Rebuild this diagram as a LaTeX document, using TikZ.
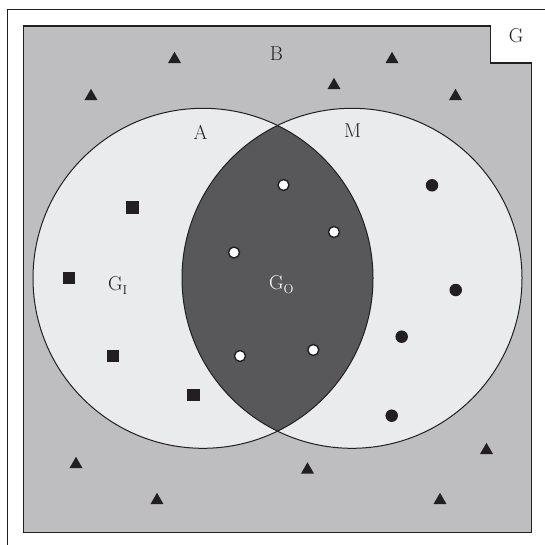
\documentclass[tikz,border=0pt]{standalone}
\usepackage{fontspec}
\usepackage{xcolor}
\usepackage{tikz}
\usetikzlibrary{shapes.geometric}
\definecolor{bggray}{RGB}{190,190,192}
\definecolor{setfill}{RGB}{234,235,237}
\definecolor{lensfill}{RGB}{88,88,90}
\definecolor{ink}{RGB}{35,31,32}
\newcommand{\subsc}[1]{\raisebox{-4.5pt}{\fontsize{13}{13}\selectfont #1}}
\begin{document}
\begin{tikzpicture}[
  x=1pt, y=-1pt,
  lbl/.style={font=\fontsize{20}{24}\selectfont, text=ink, inner sep=0pt},
  tri/.style={regular polygon, regular polygon sides=3, fill=ink, draw=none, minimum size=15pt, inner sep=0pt, yshift=-1.8pt},
  sq/.style={rectangle, fill=ink, draw=none, minimum size=12.5pt, inner sep=0pt},
  dotb/.style={circle, fill=ink, draw=none, minimum size=12.5pt, inner sep=0pt},
  doto/.style={circle, fill=white, draw=ink, line width=1.4pt, minimum size=11pt, inner sep=0pt}
]
\useasboundingbox (0,0) rectangle (545,545);
\coordinate (fa) at (7.5,545);
\coordinate (fb) at (7.5,9.5);
\coordinate (fc) at (545,9.5);
\draw[ink, line width=1.5pt] (fa) -- (fb) -- (fc);
\fill[bggray, draw=ink, line width=1.3pt] (23.5,26) -- (490.8,26) -- (490.8,63) -- (531.2,63) -- (531.2,532.5) -- (23.5,532.5) -- cycle;
\coordinate (ca) at (203,278.3);
\coordinate (cm) at (352,278.3);
\fill[setfill] (ca) circle (170);
\fill[setfill] (cm) circle (170);
\begin{scope}
  \clip (ca) circle (170);
  \fill[lensfill] (cm) circle (170);
\end{scope}
\draw[ink, line width=1pt] (ca) circle (170);
\draw[ink, line width=1pt] (cm) circle (170);
\node[lbl] (g) at (516,36) {G};
\node[lbl] (b) at (276.5,53.5) {B};
\node[lbl] (a) at (200.5,132) {A};
\node[lbl] (m) at (352.5,131) {M};
\node[lbl, anchor=base west] (gi) at (108,290) {G\subsc{I}};
\node[lbl, anchor=base west, text=white] (go) at (269,289) {G\subsc{O}};
\foreach \x/\y [count=\i] in {174.5/57.5, 392/57.5, 334/83.5, 91/94.5, 455.5/94.5, 76/462.5, 157/498.5, 307.5/468, 440/498.5, 486.5/448.5}
  \node[tri] (t\i) at (\x,\y) {};
\foreach \x/\y [count=\i] in {132.7/207.3, 69/278, 113/356, 193.3/395}
  \node[sq] (s\i) at (\x,\y) {};
\foreach \x/\y [count=\i] in {432/185.3, 455.7/290, 401.7/336.7, 391.7/415.7}
  \node[dotb] (d\i) at (\x,\y) {};
\foreach \x/\y [count=\i] in {283.5/185, 334/232, 234/252.5, 240/356, 313.3/350}
  \node[doto] (o\i) at (\x,\y) {};
\end{tikzpicture}
\end{document}
